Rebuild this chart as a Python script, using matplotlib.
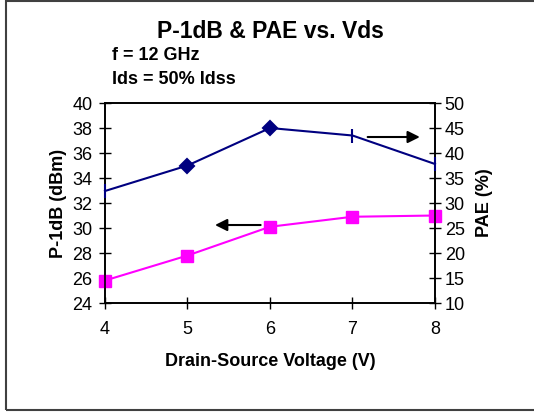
import matplotlib.pyplot as plt
from matplotlib.patches import Rectangle

plt.rcParams['font.family'] = ['Liberation Sans', 'DejaVu Sans']

vds = [4, 5, 6, 7, 8]
p1db = [25.8, 27.8, 30.1, 30.9, 31.0]      # dBm, left axis
pae = [32.4, 37.5, 45.0, 43.5, 37.8]       # %, right axis
pae_markers = ['|', 'D', 'D', '|', '|']

fig = plt.figure(figsize=(5.34, 4.13), dpi=100)
fig.patches.append(Rectangle((6 / 534, 0.007), 1.0, 0.99, transform=fig.transFigure,
                             fill=False, edgecolor='#404040', linewidth=1.5))

ax = fig.add_axes([0.1966, 0.2663, 0.618, 0.4843])
ax2 = ax.twinx()

ax.plot(vds, p1db, color='#ff00ff', linewidth=1.5, marker='s', markersize=9,
        markerfacecolor='#ff00ff', markeredgecolor='#ff00ff', zorder=3, clip_on=False)

ax2.plot(vds, pae, color='#000080', linewidth=1.5, zorder=3, clip_on=False)
for x, y, m in zip(vds, pae, pae_markers):
    ax2.plot([x], [y], marker=m, color='#000080', markersize=7.5 if m == 'D' else 9.5,
             markeredgewidth=1.5, linestyle='none', clip_on=False, zorder=4)

ax.set_xlim(4, 8)
ax.set_ylim(24, 40)
ax2.set_ylim(10, 50)
ax.set_xticks(vds)
ax.set_yticks(range(24, 41, 2))
ax2.set_yticks(range(10, 51, 5))

for a in (ax, ax2):
    for s in a.spines.values():
        s.set_linewidth(1.2)
    a.tick_params(labelsize=13, length=8, width=1, direction='inout')
ax.tick_params(axis='x', pad=9)
ax.tick_params(axis='y', pad=5)
ax2.tick_params(axis='y', pad=3)

ax.set_xlabel('Drain-Source Voltage (V)', fontsize=13, fontweight='bold', labelpad=11)
ax.set_ylabel('P-1dB (dBm)', fontsize=13, fontweight='bold', labelpad=4)
ax2.set_ylabel('PAE (%)', fontsize=13, fontweight='bold', labelpad=8)

ax.annotate('', xy=(7.85, 37.28), xytext=(7.15, 37.28),
            arrowprops=dict(arrowstyle='-|>', color='black', lw=1.5, mutation_scale=18))
ax.annotate('', xy=(5.3, 30.24), xytext=(5.92, 30.24),
            arrowprops=dict(arrowstyle='-|>', color='black', lw=1.5, mutation_scale=18))

fig.text(270 / 534, 1 - 32 / 413, 'P-1dB & PAE vs. Vds', ha='center', va='center',
         fontsize=16.5, fontweight='bold')
fig.text(112 / 534, 1 - 56 / 413, 'f = 12 GHz', ha='left', va='center',
         fontsize=13, fontweight='bold')
fig.text(112 / 534, 1 - 80 / 413, 'Ids = 50% Idss', ha='left', va='center',
         fontsize=13, fontweight='bold')

fig.savefig('out.png', dpi=100)
